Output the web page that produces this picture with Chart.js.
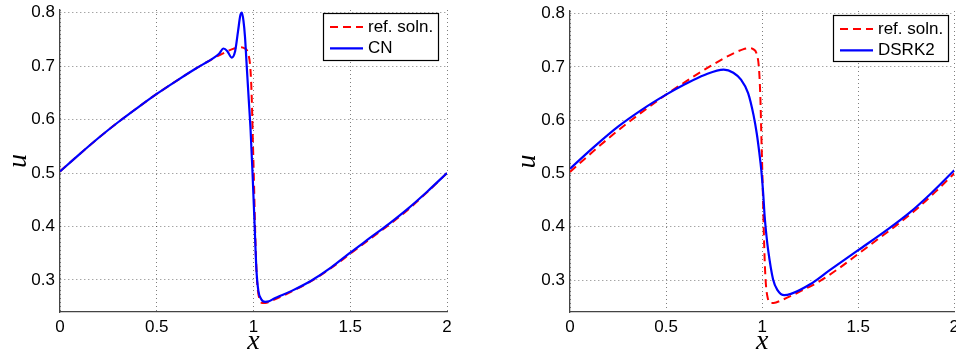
<!DOCTYPE html>
<html>
<head>
<meta charset="utf-8">
<script src="https://cdn.jsdelivr.net/npm/chart.js@4.4.1/dist/chart.umd.min.js"></script>
<style>
html, body { margin: 0; padding: 0; background: #fff; overflow: hidden; }
#wrap { position: relative; width: 956px; height: 354px; overflow: hidden; }
.panel { position: absolute; top: 0; height: 354px; }
#left { left: 0; width: 478px; }
#right { left: 478px; width: 486px; }
</style>
</head>
<body>
<div id="wrap">
  <div class="panel" id="left"><canvas id="cnChart" width="478" height="354"></canvas></div>
  <div class="panel" id="right"><canvas id="dsrkChart" width="486" height="354"></canvas></div>
</div>
<script>
// reference solution (shared by both panels)
var refX = [0, 0.1, 0.2, 0.3, 0.4, 0.5, 0.6, 0.7, 0.8, 0.86, 0.9, 0.935, 0.955, 0.97, 0.984, 0.991, 0.996, 1.002, 1.008, 1.014, 1.02, 1.03, 1.045, 1.06, 1.1, 1.2, 1.3, 1.4, 1.5, 1.6, 1.7, 1.8, 1.9, 2.0];
var refU = [0.503, 0.535, 0.566, 0.595, 0.622, 0.648, 0.672, 0.695, 0.716, 0.727, 0.733, 0.7355, 0.733, 0.726, 0.695, 0.64, 0.57, 0.49, 0.40, 0.33, 0.29, 0.265, 0.257, 0.257, 0.262, 0.279, 0.298, 0.322, 0.349, 0.376, 0.403, 0.432, 0.465, 0.5];

// Crank-Nicolson
var cnX = [0, 0.1, 0.2, 0.3, 0.4, 0.5, 0.6, 0.7, 0.8, 0.822, 0.845, 0.865, 0.887, 0.905, 0.92, 0.932, 0.94, 0.948, 0.956, 0.965, 0.975, 0.985, 0.995, 1.005, 1.015, 1.025, 1.04, 1.06, 1.08, 1.1, 1.2, 1.3, 1.4, 1.5, 1.6, 1.7, 1.8, 1.9, 2.0];
var cnU = [0.503, 0.535, 0.566, 0.595, 0.622, 0.648, 0.672, 0.695, 0.717, 0.723, 0.733, 0.728, 0.716, 0.728, 0.765, 0.795, 0.80, 0.785, 0.755, 0.70, 0.64, 0.58, 0.50, 0.41, 0.32, 0.28, 0.264, 0.259, 0.26, 0.264, 0.28, 0.299, 0.323, 0.351, 0.378, 0.405, 0.434, 0.466, 0.5];

// DSRK2
var dsrkX = [0, 0.125, 0.25, 0.375, 0.5, 0.6, 0.7, 0.8, 0.85, 0.89, 0.927, 0.955, 0.972, 0.985, 0.996, 1.006, 1.013, 1.022, 1.031, 1.057, 1.08, 1.115, 1.15, 1.25, 1.35, 1.5, 1.65, 1.766, 1.88, 2.0];
var dsrkU = [0.509, 0.55, 0.588, 0.62, 0.648, 0.668, 0.685, 0.695, 0.689, 0.676, 0.651, 0.61, 0.575, 0.54, 0.505, 0.46, 0.42, 0.385, 0.357, 0.301, 0.281, 0.2715, 0.274, 0.292, 0.318, 0.356, 0.394, 0.426, 0.463, 0.506];

var xTicks = [0, 0.5, 1, 1.5, 2];
var uTicks = [0.3, 0.4, 0.5, 0.6, 0.7, 0.8];

function pts(xs, ys) {
  return xs.map(function (x, i) { return { x: x, y: ys[i] }; });
}

// boxed legend in the top-right corner, like matlab's
var boxLegend = {
  id: 'boxLegend',
  afterDraw: function (chart, args, opts) {
    var ctx = chart.ctx;
    var x = opts.x, y = opts.y;
    ctx.save();
    ctx.fillStyle = '#fff';
    ctx.fillRect(x, y, opts.w, opts.h);
    ctx.strokeStyle = '#000';
    ctx.lineWidth = 1.2;
    ctx.strokeRect(x + 0.5, y + 0.5, opts.w, opts.h);
    ctx.font = '17px "Liberation Sans", Arial, sans-serif';
    ctx.textBaseline = 'middle';
    chart.data.datasets.forEach(function (ds, i) {
      var ly = y + 14 + i * 21.3;
      ctx.strokeStyle = ds.borderColor;
      ctx.lineWidth = ds.borderWidth;
      ctx.setLineDash(ds.borderDash || []);
      ctx.beginPath();
      ctx.moveTo(x + 7, ly);
      ctx.lineTo(x + 40, ly);
      ctx.stroke();
      ctx.setLineDash([]);
      ctx.fillStyle = '#000';
      ctx.fillText(ds.label, x + 45, ly);
    });
    ctx.restore();
  }
};

function makeChart(id, label, xs, ys, yWidth, titlePad, padTop, padRight, legendAt) {
  return new Chart(document.getElementById(id), {
    type: 'line',
    data: {
      datasets: [{
        label: 'ref. soln.',
        data: pts(refX, refU),
        borderColor: '#ff0000',
        borderWidth: 2,
        borderDash: [8, 5],
        pointRadius: 0,
        cubicInterpolationMode: 'monotone',
        order: 1
      }, {
        label: label,
        data: pts(xs, ys),
        borderColor: '#0000ff',
        borderWidth: 2.2,
        pointRadius: 0,
        cubicInterpolationMode: 'monotone',
        order: 0
      }]
    },
    options: {
      responsive: false,
      animation: false,
      layout: { padding: { left: 0, right: padRight, top: padTop, bottom: 0 } },
      plugins: {
        legend: { display: false },
        tooltip: { enabled: false },
        boxLegend: legendAt
      },
      scales: {
        x: {
          type: 'linear',
          min: 0,
          max: 2,
          afterBuildTicks: function (s) { s.ticks = xTicks.map(function (v) { return { value: v }; }); },
          afterFit: function (s) { s.height = 42; },
          ticks: {
            color: '#000',
            padding: 5,
            font: { family: '"Liberation Sans", Arial, sans-serif', size: 17 },
            callback: function (v) { return String(v); }
          },
          grid: { color: 'rgba(0,0,0,0.5)', lineWidth: 1, drawTicks: false },
          border: { color: '#444', width: 1.3, dash: [1, 3] },
          title: {
            display: true,
            text: 'x',
            color: '#000',
            padding: { top: 0, bottom: -2 },
            font: { family: '"Liberation Serif", "Times New Roman", serif', style: 'italic', size: 28, lineHeight: 1 }
          }
        },
        y: {
          type: 'linear',
          min: 0.24,
          max: 0.805,
          afterBuildTicks: function (s) { s.ticks = uTicks.map(function (v) { return { value: v }; }); },
          afterFit: function (s) { s.width = yWidth; },
          ticks: {
            color: '#000',
            padding: 5,
            font: { family: '"Liberation Sans", Arial, sans-serif', size: 17, lineHeight: 0.5 },
            callback: function (v) { return v.toFixed(1); }
          },
          grid: { color: 'rgba(0,0,0,0.5)', lineWidth: 1, drawTicks: false },
          border: { color: '#444', width: 1.3, dash: [1, 3] },
          title: {
            display: true,
            text: 'u',
            color: '#000',
            padding: { top: titlePad, bottom: 0 },
            font: { family: '"Liberation Serif", "Times New Roman", serif', style: 'italic', size: 28, lineHeight: 1 }
          }
        }
      }
    },
    plugins: [boxLegend]
  });
}

makeChart('cnChart', 'CN', cnX, cnU, 60, 5, 10, 31, { x: 323, y: 13, w: 115, h: 47 });
makeChart('dsrkChart', 'DSRK2', dsrkX, dsrkU, 92, 36, 11, 0, { x: 355, y: 15, w: 115, h: 46 });
</script>
</body>
</html>
